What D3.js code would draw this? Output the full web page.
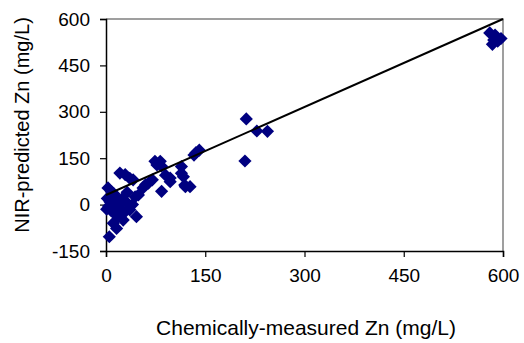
<!DOCTYPE html>
<html>
<head>
<meta charset="utf-8">
<script src="https://cdn.jsdelivr.net/npm/d3@7"></script>
<style>
  html, body { margin: 0; padding: 0; background: #fff; }
  svg { display: block; }
  text { font-family: "Liberation Sans", Arial, sans-serif; fill: #000; }
</style>
</head>
<body>
<svg id="chart" width="524" height="343"></svg>
<script>
// Chemically-measured Zn (x) vs NIR-predicted Zn (y), mg/L
const measured = [
  580, 584, 588, 592, 597, 586,
  212, 228, 244, 210, 141, 136, 133, 127, 119, 114, 114, 117, 120, 97,
  74, 82, 84, 77, 64, 56, 49, 84, 97, 90,
  36, 41, 29, 21, 60, 70,
  5, 16, 11, 26, 46, 36, 6, 14, 3, 2, 4, 8, 10, 12, 18, 20, 22, 25, 28, 30, 32, 15, 40, 44, 8, 1, 18
];
const predicted = [
  555, 518, 548, 528, 537, 532,
  277, 238, 237, 141, 176, 168, 160, 58, 63, 101, 123, 90, 58, 86,
  140, 140, 124, 128, 69, 54, 31, 43, 74, 95,
  85, 80, 97, 102, 65, 80,
  -104, -77, -60, -50, -39, -17, 9, 26, 54, 20, -5, -20, 0, 35, 15, -10, 5, 20, -25, 10, 40, -30, 0, 25, 42, -15, -40
];
// fitted calibration line endpoints
const fitX = [0, 600];
const fitY = [31, 600];
const xTicks = [0, 150, 300, 450, 600];
const yTicks = [-150, 0, 150, 300, 450, 600];

const svg = d3.select("#chart");
const plotLeft = 106, plotRight = 503, plotTop = 19, plotBottom = 251;

const x = d3.scaleLinear().domain([0, 600]).range([plotLeft, plotRight]);
const y = d3.scaleLinear().domain([-150, 600]).range([plotBottom, plotTop]);

// plot area frame (top and right edges)
svg.append("path")
  .attr("d", `M${plotLeft},${plotTop}H${plotRight}V${plotBottom}`)
  .attr("fill", "none")
  .attr("stroke", "#808080")
  .attr("stroke-width", 1.5);

// axes (plain hyphen for negatives)
const fmt = d => String(d);
const xAxis = d3.axisBottom(x).tickValues(xTicks).tickFormat(fmt).tickSize(6).tickPadding(12);
const yAxis = d3.axisLeft(y).tickValues(yTicks).tickFormat(fmt).tickSize(6).tickPadding(10);

const gx = svg.append("g").attr("transform", `translate(0,${plotBottom})`).call(xAxis);
const gy = svg.append("g").attr("transform", `translate(${plotLeft},0)`).call(yAxis);

[gx, gy].forEach(g => {
  g.select(".domain").attr("stroke", "#000").attr("stroke-width", 1.5);
  g.selectAll(".tick line").attr("stroke", "#000").attr("stroke-width", 1.2);
  g.selectAll(".tick text")
    .style("font-family", '"Liberation Sans", Arial, sans-serif')
    .style("font-size", "19px")
    .attr("fill", "#000");
});

// data points (diamonds)
const pts = measured.map((m, i) => [m, predicted[i]]);
const h = 6.6;
svg.append("g")
  .selectAll("path")
  .data(pts)
  .join("path")
  .attr("d", d => {
    const cx = x(d[0]), cy = y(d[1]);
    return `M${cx},${cy - h}L${cx + h},${cy}L${cx},${cy + h}L${cx - h},${cy}Z`;
  })
  .attr("fill", "#000080");

// fitted line
svg.append("line")
  .attr("x1", x(fitX[0])).attr("y1", y(fitY[0]))
  .attr("x2", x(fitX[1])).attr("y2", y(fitY[1]))
  .attr("stroke", "#000")
  .attr("stroke-width", 2);

// axis titles
svg.append("text")
  .attr("x", 306).attr("y", 335)
  .attr("text-anchor", "middle")
  .style("font-size", "21px")
  .text("Chemically-measured Zn (mg/L)");

svg.append("text")
  .attr("transform", "translate(29,125) rotate(-90)")
  .attr("text-anchor", "middle")
  .style("font-size", "20px")
  .text("NIR-predicted Zn (mg/L)");
</script>
</body>
</html>
